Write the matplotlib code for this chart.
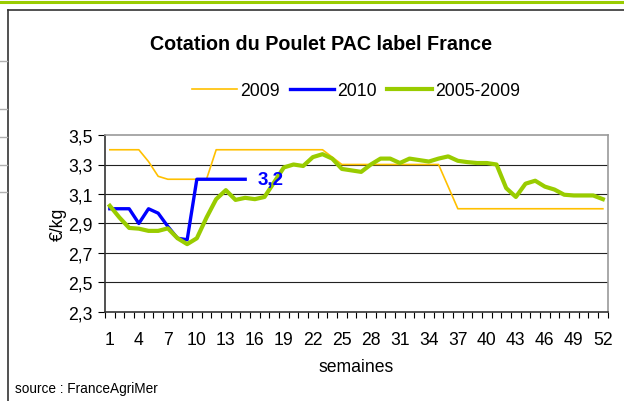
import matplotlib
matplotlib.use("Agg")
import matplotlib.pyplot as plt
from matplotlib.lines import Line2D
import numpy as np

plt.rcParams['font.family'] = ['Liberation Sans', 'DejaVu Sans']

weeks = list(range(1, 53))
y2009 = [3.4, 3.4, 3.4, 3.4, 3.32, 3.22, 3.2, 3.2, 3.2, 3.2, 3.2,
         3.4, 3.4, 3.4, 3.4, 3.4, 3.4, 3.4, 3.4, 3.4, 3.4, 3.4, 3.4,
         3.35, 3.3, 3.3, 3.3, 3.3, 3.3, 3.3, 3.3, 3.3, 3.3, 3.3, 3.3,
         3.15, 3.0, 3.0, 3.0, 3.0, 3.0, 3.0, 3.0, 3.0, 3.0, 3.0, 3.0,
         3.0, 3.0, 3.0, 3.0, 3.0]
y2010 = [3.0, 3.0, 3.0, 2.9, 3.0, 2.97, 2.88, 2.8, 2.79, 3.2, 3.2, 3.2,
         3.2, 3.2, 3.2]
y0509 = [3.02, 2.94, 2.87, 2.865, 2.85, 2.85, 2.867, 2.8, 2.76, 2.8,
         2.94, 3.065, 3.126, 3.06, 3.074, 3.065, 3.08, 3.18, 3.28, 3.3,
         3.29, 3.35, 3.37, 3.34, 3.27, 3.26, 3.25, 3.3, 3.34, 3.34,
         3.31, 3.34, 3.33, 3.32, 3.34, 3.355, 3.325, 3.316, 3.31, 3.31,
         3.3, 3.14, 3.08, 3.17, 3.19, 3.15, 3.13, 3.095, 3.09, 3.09,
         3.09, 3.065]
series_labels = ["2009", "2010", "2005-2009"]
yticks = [2.3, 2.5, 2.7, 2.9, 3.1, 3.3, 3.5]
xticks = list(range(1, 53, 3))
last_label = "3,2"

W, H = 624, 402
FS = 12.7
fig = plt.figure(figsize=(W / 100, H / 100), dpi=100)

# decorations: green top rule, outer frame, left stubs
fig.add_artist(Line2D([0, 1], [1 - 2.7 / H] * 2, color='#99CC00', lw=2.2, transform=fig.transFigure))
fig.add_artist(Line2D([7.5 / W, 1.0], [1 - 11 / H] * 2, color='#333333', lw=1.2, transform=fig.transFigure))
fig.add_artist(Line2D([7.5 / W] * 2, [0, 1 - 11 / H], color='#333333', lw=1.2, transform=fig.transFigure))
for yy in [62, 110, 137.5, 166, 193]:
    fig.add_artist(Line2D([0, 7 / W], [1 - yy / H] * 2, color='#b0b0b0', lw=1.0, transform=fig.transFigure))

ax = fig.add_axes([105 / W, 1 - 313 / H, (607.7 - 105) / W, (313 - 136) / H])

ax.plot(weeks, y2009, color='#FFC000', lw=1.2, label=series_labels[0], zorder=3)
ax.plot(weeks[:len(y2010)], y2010, color='#0000FF', lw=2.4, label=series_labels[1], zorder=4)
ax.plot(weeks, y0509, color='#99CC00', lw=3.0, label=series_labels[2], zorder=5)

ax.text(weeks[len(y2010) - 1] + 1.3, y2010[-1], last_label, color='#0000FF',
        fontsize=13.5, fontweight='bold', va='center', ha='left', zorder=6)

ax.set_xlim(0.5, 52.5)
ax.set_ylim(2.3, 3.5)
ax.set_yticks(yticks)
ax.set_yticklabels([f"{v:.1f}".replace('.', ',') for v in yticks], fontsize=FS)
ax.set_xticks(xticks)
ax.set_xticklabels([str(v) for v in xticks], fontsize=FS)
ax.set_xticks(np.arange(0.5, 53, 1), minor=True)
ax.tick_params(axis='x', which='major', length=0, pad=14)
ax.tick_params(axis='x', which='minor', length=4, direction='out', width=0.8)
ax.tick_params(axis='y', length=5, direction='out', width=0.8, pad=4)

for v in yticks[1:-1]:
    ax.axhline(v, color='#222222', lw=0.8, zorder=1)

for s in ['top', 'right']:
    ax.spines[s].set_color('#9a9a9a')
    ax.spines[s].set_linewidth(1.2)
for s in ['left', 'bottom']:
    ax.spines[s].set_color('#333333')
    ax.spines[s].set_linewidth(1.2)

ax.set_ylabel("€/kg", fontsize=FS, labelpad=1)
ax.set_xlabel("semaines", fontsize=FS, labelpad=7)

fig.text(321 / W, 1 - 45 / H, "Cotation du Poulet PAC label France", fontsize=14.2,
         fontweight='bold', ha='center', va='center')
fig.text(15 / W, 1 - 389 / H, "source : FranceAgriMer", fontsize=9.8, ha='left', va='center')

fig.legend(loc='center', bbox_to_anchor=(356 / W, 1 - 91.5 / H), ncol=3, frameon=False,
           fontsize=FS, handlelength=2.55, handletextpad=0.17, columnspacing=0.57)

fig.savefig("out.png", dpi=100)
